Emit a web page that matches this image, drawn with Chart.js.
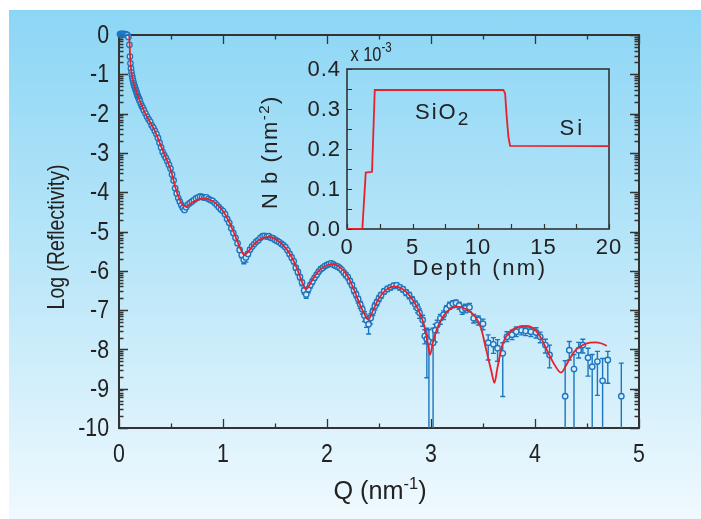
<!DOCTYPE html>
<html>
<head>
<meta charset="utf-8">
<script src="https://cdn.jsdelivr.net/npm/chart.js"></script>
<style>
  body { margin: 0; background: #fff; }
  #wrap { position: relative; width: 701px; height: 519px; overflow: hidden; }
  #panel { position: absolute; left: 9px; top: 10px; right: 0; bottom: 0;
           background: linear-gradient(#8cd6f5, #bfe8f9 55%, #f0f9fe); }
  canvas { position: absolute; }
</style>
</head>
<body>
<div id="wrap">
  <div id="panel"></div>
  <canvas id="main" width="701" height="519" style="left:0;top:0"></canvas>
  <canvas id="inset" width="400" height="260" style="left:240px;top:30px"></canvas>
</div>
<script>
// measured reflectivity (Q in nm^-1, log10 R) with error bars
const dataQ = [
  0.01, 0.02, 0.03, 0.04, 0.05, 0.06, 0.07, 0.08, 0.09, 0.10,
  0.105, 0.11, 0.115, 0.12, 0.125, 0.13, 0.135, 0.14, 0.145, 0.15,
  0.155, 0.16, 0.165, 0.17, 0.175, 0.18, 0.185, 0.19, 0.195, 0.20,
  0.21, 0.22, 0.23, 0.24, 0.255, 0.27, 0.285, 0.30, 0.315, 0.33,
  0.345, 0.36, 0.375, 0.39, 0.405, 0.42, 0.435, 0.45, 0.465, 0.48,
  0.495, 0.51, 0.525, 0.54, 0.555, 0.57, 0.585, 0.60, 0.615, 0.63,
  0.645, 0.66, 0.68, 0.70, 0.72, 0.74, 0.76, 0.78, 0.80, 0.82,
  0.84, 0.86, 0.88, 0.90, 0.92, 0.94, 0.96, 0.98, 1.00, 1.02,
  1.04, 1.06, 1.08, 1.10, 1.12, 1.14, 1.16, 1.18, 1.20, 1.22,
  1.24, 1.26, 1.28, 1.30, 1.32, 1.34, 1.36, 1.38, 1.40, 1.42,
  1.44, 1.46, 1.48, 1.50, 1.52, 1.54, 1.56, 1.58, 1.60, 1.62,
  1.64, 1.66, 1.68, 1.70, 1.72, 1.74, 1.76, 1.78, 1.80, 1.82,
  1.84, 1.86, 1.88, 1.90, 1.92, 1.94, 1.96, 1.98, 2.00, 2.02,
  2.04, 2.06, 2.08, 2.10, 2.12, 2.14, 2.16, 2.18, 2.20, 2.22,
  2.24, 2.26, 2.28, 2.30, 2.32, 2.34, 2.36, 2.38, 2.40, 2.42,
  2.44, 2.46, 2.48, 2.50, 2.52, 2.55, 2.58, 2.61, 2.64, 2.67,
  2.70, 2.73, 2.76, 2.79, 2.82, 2.85, 2.87, 2.89, 2.92, 2.94,
  2.96, 2.98, 3.02, 3.04, 3.06, 3.09, 3.12, 3.15, 3.18, 3.21,
  3.24, 3.27, 3.30, 3.33, 3.37, 3.41, 3.455, 3.50, 3.55, 3.60,
  3.64, 3.69, 3.73, 3.78, 3.82, 3.87, 3.91, 3.96, 4.01, 4.05,
  4.10, 4.14, 4.29, 4.33, 4.375, 4.42, 4.46, 4.51, 4.55, 4.60,
  4.65, 4.70, 4.83
];
const dataLogR = [
  0.02, 0.03, 0.02, 0.03, 0.02, 0.02, 0.01, 0.0, -0.05, -0.25,
  -0.55, -0.72, -0.85, -0.95, -1.03, -1.10, -1.16, -1.22, -1.27, -1.31,
  -1.35, -1.39, -1.43, -1.47, -1.51, -1.55, -1.58, -1.61, -1.64, -1.68,
  -1.75, -1.81, -1.86, -1.92, -2.00, -2.08, -2.15, -2.21, -2.30, -2.36,
  -2.44, -2.52, -2.62, -2.74, -2.86, -2.98, -3.06, -3.13, -3.21, -3.30,
  -3.40, -3.55, -3.70, -3.90, -4.03, -4.15, -4.24, -4.33, -4.40, -4.45,
  -4.38, -4.32, -4.28, -4.24, -4.20, -4.16, -4.13, -4.11, -4.12, -4.14,
  -4.13, -4.17, -4.20, -4.22, -4.27, -4.32, -4.38, -4.44, -4.48, -4.56,
  -4.68, -4.78, -4.92, -5.04, -5.16, -5.30, -5.47, -5.60, -5.72, -5.66,
  -5.57, -5.46, -5.38, -5.32, -5.26, -5.22, -5.16, -5.12, -5.11, -5.13,
  -5.12, -5.16, -5.17, -5.21, -5.24, -5.27, -5.31, -5.35, -5.40, -5.48,
  -5.57, -5.66, -5.76, -5.92, -6.03, -6.16, -6.30, -6.50, -6.60, -6.47,
  -6.36, -6.27, -6.18, -6.10, -6.02, -5.96, -5.92, -5.88, -5.85, -5.83,
  -5.81, -5.84, -5.87, -5.89, -5.92, -5.97, -6.04, -6.10, -6.16, -6.26,
  -6.36, -6.50, -6.60, -6.72, -6.86, -6.98, -7.14, -7.26, -7.36, -7.20,
  -7.04, -6.90, -6.80, -6.70, -6.62, -6.52, -6.46, -6.42, -6.38, -6.37,
  -6.42, -6.47, -6.55, -6.62, -6.74, -6.86, -6.95, -7.07, -7.25, -7.66,
  -7.74, -7.80, -7.83, -7.51, -7.38, -7.21, -7.12, -6.97, -6.88, -6.84,
  -6.82, -6.88, -6.99, -6.95, -6.93, -7.21, -7.25, -7.35, -7.83, -7.87,
  -7.97, -8.10, -7.68, -7.63, -7.55, -7.51, -7.53, -7.55, -7.57, -7.68,
  -7.89, -8.14, -9.19, -8.02, -8.50, -8.02, -7.89, -8.21, -8.44, -8.31,
  -8.80, -8.27, -9.19
];
const errUp = [
  0, 0, 0, 0, 0, 0, 0, 0, 0, 0,
  0, 0, 0, 0, 0, 0, 0, 0, 0, 0,
  0, 0, 0, 0, 0, 0, 0, 0, 0, 0,
  0, 0, 0, 0, 0, 0, 0, 0, 0, 0,
  0, 0, 0, 0, 0, 0, 0, 0, 0, 0,
  0, 0, 0, 0, 0, 0, 0, 0, 0, 0,
  0, 0, 0, 0, 0, 0, 0, 0, 0, 0,
  0, 0, 0, 0, 0, 0, 0, 0, 0, 0,
  0.03, 0.03, 0.03, 0.04, 0.04, 0.05, 0.05, 0.06, 0.06, 0.06,
  0.05, 0.05, 0.04, 0.04, 0.04, 0.04, 0.04, 0.04, 0.04, 0.04,
  0.04, 0.04, 0.04, 0.04, 0.04, 0.04, 0.04, 0.04, 0.04, 0.04,
  0.05, 0.05, 0.05, 0.05, 0.06, 0.06, 0.06, 0.07, 0.07, 0.07,
  0.06, 0.06, 0.05, 0.05, 0.05, 0.05, 0.05, 0.05, 0.05, 0.05,
  0.05, 0.05, 0.05, 0.05, 0.05, 0.05, 0.05, 0.05, 0.05, 0.05,
  0.06, 0.06, 0.07, 0.07, 0.08, 0.08, 0.10, 0.10, 0.12, 0.10,
  0.08, 0.08, 0.07, 0.07, 0.07, 0.06, 0.06, 0.06, 0.06, 0.06,
  0.06, 0.06, 0.07, 0.07, 0.08, 0.09, 0.10, 0.10, 0.12, 0.16,
  0.28, 0.30, 0.37, 0.15, 0.12, 0.10, 0.10, 0.08, 0.08, 0.08,
  0.08, 0.08, 0.10, 0.10, 0.10, 0.10, 0.10, 0.12, 0.20, 0.17,
  0.22, 0.27, 0.13, 0.12, 0.12, 0.10, 0.10, 0.10, 0.12, 0.12,
  0.15, 0.25, 0.90, 0.22, 0.37, 0.20, 0.15, 0.24, 0.31, 0.26,
  0.57, 0.22, 0.84
];
const errDown = [
  0, 0, 0, 0, 0, 0, 0, 0, 0, 0,
  0, 0, 0, 0, 0, 0, 0, 0, 0, 0,
  0, 0, 0, 0, 0, 0, 0, 0, 0, 0,
  0, 0, 0, 0, 0, 0, 0, 0, 0, 0,
  0, 0, 0, 0, 0, 0, 0, 0, 0, 0,
  0, 0, 0, 0, 0, 0, 0, 0, 0, 0,
  0, 0, 0, 0, 0, 0, 0, 0, 0, 0,
  0, 0, 0, 0, 0, 0, 0, 0, 0, 0,
  0.03, 0.03, 0.03, 0.04, 0.04, 0.05, 0.06, 0.07, 0.10, 0.12,
  0.06, 0.05, 0.05, 0.04, 0.04, 0.04, 0.04, 0.04, 0.04, 0.04,
  0.05, 0.05, 0.05, 0.05, 0.05, 0.05, 0.05, 0.05, 0.05, 0.05,
  0.05, 0.06, 0.06, 0.06, 0.07, 0.07, 0.08, 0.09, 0.10, 0.09,
  0.08, 0.07, 0.06, 0.06, 0.06, 0.05, 0.05, 0.05, 0.05, 0.05,
  0.05, 0.05, 0.05, 0.06, 0.06, 0.06, 0.06, 0.07, 0.07, 0.07,
  0.07, 0.08, 0.09, 0.10, 0.10, 0.12, 0.15, 0.18, 0.25, 0.15,
  0.10, 0.10, 0.09, 0.08, 0.08, 0.07, 0.07, 0.07, 0.07, 0.07,
  0.07, 0.07, 0.08, 0.09, 0.10, 0.11, 0.12, 0.14, 0.16, 0.20,
  0.98, 3.00, 3.00, 0.30, 0.20, 0.15, 0.12, 0.10, 0.10, 0.10,
  0.10, 0.10, 0.12, 0.12, 0.12, 0.12, 0.13, 0.15, 0.44, 0.23,
  0.33, 1.10, 0.12, 0.12, 0.12, 0.12, 0.12, 0.12, 0.14, 0.15,
  0.20, 0.33, 2.00, 0.25, 2.00, 0.20, 0.20, 0.47, 2.00, 0.86,
  2.00, 0.59, 2.00
];

// model fit (red line)
const fitQ = [
  0, 0.05, 0.097, 0.103, 0.11, 0.12, 0.135, 0.15, 0.17, 0.19,
  0.21, 0.25, 0.3, 0.35, 0.4, 0.45, 0.5, 0.54, 0.58, 0.615,
  0.645, 0.7, 0.75, 0.81, 0.87, 0.93, 1.0, 1.06, 1.12, 1.17,
  1.205, 1.24, 1.3, 1.37, 1.44, 1.52, 1.6, 1.66, 1.71, 1.76,
  1.8, 1.85, 1.92, 1.99, 2.05, 2.12, 2.19, 2.26, 2.32, 2.36,
  2.397, 2.44, 2.5, 2.57, 2.65, 2.73, 2.8, 2.87, 2.93, 2.97,
  2.99, 3.02, 3.07, 3.15, 3.25, 3.34, 3.42, 3.48, 3.53, 3.58,
  3.61, 3.64, 3.69, 3.76, 3.84, 3.92, 4.0, 4.06, 4.12, 4.19,
  4.25, 4.31, 4.38, 4.46, 4.53, 4.58, 4.64, 4.69
];
const fitLogR = [
  0, 0, 0, -0.3, -0.7, -0.95, -1.16, -1.31, -1.47, -1.61,
  -1.74, -1.98, -2.22, -2.47, -2.8, -3.12, -3.45, -3.86, -4.17, -4.33,
  -4.36, -4.27, -4.2, -4.16, -4.19, -4.28, -4.48, -4.76, -5.13, -5.45,
  -5.6, -5.52, -5.32, -5.18, -5.14, -5.22, -5.41, -5.65, -5.93, -6.28,
  -6.47, -6.27, -6.0, -5.87, -5.83, -5.9, -6.1, -6.48, -6.88, -7.1,
  -7.24, -7.02, -6.7, -6.48, -6.4, -6.47, -6.65, -6.95, -7.35, -7.85,
  -8.14, -7.8, -7.4, -7.05, -6.91, -6.98, -7.15, -7.45, -8.0, -8.55,
  -8.85, -8.45, -7.85, -7.55, -7.43, -7.4, -7.5, -7.72, -8.05, -8.4,
  -8.59, -8.35, -8.05, -7.89, -7.83, -7.82, -7.85, -7.91
];
const xTicks = [0, 1, 2, 3, 4, 5];
const yTicks = [0, -1, -2, -3, -4, -5, -6, -7, -8, -9, -10];

// inset: scattering length density profile (x 10^-3 nm^-2)
const depthNm = [0, 1.17, 1.43, 1.91, 2.12, 11.94, 12.07, 12.19, 12.32, 12.45, 20];
const nbValues = [0, 0, 0.141, 0.143, 0.3475, 0.3475, 0.339, 0.281, 0.231, 0.208, 0.207];
const insetXTicks = [0, 5, 10, 15, 20];
const insetYTicks = [0, 0.1, 0.2, 0.3, 0.4];

const SANS = "'Liberation Sans', Arial, sans-serif";
const INK = '#222';
const BLUE = '#1c76bf';
const RED = '#e8202a';

// frame and inward tick marks, drawn under the data
const frameTicks = {
  id: 'frameTicks',
  beforeDatasetsDraw(chart, args, o) {
    const { ctx, chartArea: a, scales: { x, y } } = chart;
    ctx.save();
    ctx.strokeStyle = o.color;
    ctx.lineWidth = o.frameWidth;
    ctx.strokeRect(a.left, a.top, a.width, a.height);
    ctx.lineWidth = o.tickWidth;
    ctx.beginPath();
    const xt = (vals, len) => vals.forEach(v => {
      const p = Math.round(x.getPixelForValue(v)) + 0.5;
      if (o.bottom) { ctx.moveTo(p, a.bottom); ctx.lineTo(p, a.bottom - len); }
      if (o.top) { ctx.moveTo(p, a.top); ctx.lineTo(p, a.top + len); }
    });
    const yt = (vals, len) => vals.forEach(v => {
      const p = Math.round(y.getPixelForValue(v)) + 0.5;
      if (o.left) { ctx.moveTo(a.left, p); ctx.lineTo(a.left + len, p); }
      if (o.right) { ctx.moveTo(a.right, p); ctx.lineTo(a.right - len, p); }
    });
    xt(o.xMajor, o.majorLen); xt(o.xMinor, o.minorLen);
    yt(o.yMajor, o.majorLen); yt(o.yMinor, o.minorLen);
    ctx.stroke();
    ctx.restore();
  }
};

// tick labels drawn from the scales, with optional horizontal squeeze
const tickLabels = {
  id: 'tickLabels',
  afterDraw(chart, args, o) {
    const { ctx, chartArea: a, scales: { x, y } } = chart;
    ctx.save();
    ctx.fillStyle = INK;
    ctx.font = o.size + 'px ' + SANS;
    ctx.letterSpacing = o.spacing;
    ctx.textBaseline = 'middle';
    o.xVals.forEach(v => {
      ctx.save();
      ctx.translate(x.getPixelForValue(v), a.bottom + o.xOffset);
      ctx.scale(o.squeeze, 1);
      ctx.textAlign = 'center';
      ctx.fillText(o.xFormat(v), 0, 0);
      ctx.restore();
    });
    o.yVals.forEach(v => {
      ctx.save();
      ctx.translate(a.left - o.yOffset, y.getPixelForValue(v) + 1);
      ctx.scale(o.squeeze, 1);
      ctx.textAlign = 'right';
      ctx.fillText(o.yFormat(v), 0, 0);
      ctx.restore();
    });
    ctx.restore();
  }
};

const errorBars = {
  id: 'errorBars',
  beforeDatasetsDraw(chart) {
    const { ctx, chartArea: a, scales: { x, y } } = chart;
    ctx.save();
    ctx.strokeStyle = BLUE;
    ctx.lineWidth = 1.4;
    ctx.beginPath();
    dataQ.forEach((q, i) => {
      if (!errUp[i] && !errDown[i]) return;
      const px = x.getPixelForValue(q);
      const top = Math.max(a.top, y.getPixelForValue(dataLogR[i] + errUp[i]));
      const bot = Math.min(a.bottom, y.getPixelForValue(dataLogR[i] - errDown[i]));
      ctx.moveTo(px, top); ctx.lineTo(px, bot);
      ctx.moveTo(px - 2.5, top); ctx.lineTo(px + 2.5, top);
      if (bot < a.bottom) { ctx.moveTo(px - 2.5, bot); ctx.lineTo(px + 2.5, bot); }
    });
    ctx.stroke();
    ctx.restore();
  }
};

// text with raised / lowered small parts: parts = [[text, sizeScale, shift], ...]
function drawRich(ctx, parts, cx, cy, size, squeeze, spacing) {
  ctx.save();
  ctx.letterSpacing = spacing || '0px';
  ctx.translate(cx, cy);
  ctx.scale(squeeze, 1);
  let w = 0;
  parts.forEach(p => { ctx.font = Math.round(size * p[1]) + 'px ' + SANS; w += ctx.measureText(p[0]).width; });
  let xPos = -w / 2;
  ctx.textAlign = 'left';
  ctx.textBaseline = 'middle';
  parts.forEach(p => {
    ctx.font = Math.round(size * p[1]) + 'px ' + SANS;
    ctx.fillText(p[0], xPos, p[2] * size);
    xPos += ctx.measureText(p[0]).width;
  });
  ctx.restore();
}

const mainTitles = {
  id: 'mainTitles',
  afterDraw(chart) {
    const ctx = chart.ctx;
    ctx.save();
    ctx.fillStyle = INK;
    drawRich(ctx, [['Q (nm', 1, 0], ['-1', 0.65, -0.3], [')', 1, 0]], 380, 492, 26, 0.97);
    ctx.translate(57, 237);
    ctx.rotate(-Math.PI / 2);
    drawRich(ctx, [['Log (Reflectivity)', 1, 0]], 0, 0, 24, 0.81);
    ctx.restore();
  }
};

const yMinor = [];
for (let k = -10; k < 0; k++) for (let m = 2; m <= 9; m++) yMinor.push(k + Math.log10(m));

new Chart(document.getElementById('main'), {
  type: 'scatter',
  data: {
    datasets: [
      {
        label: 'fit',
        data: fitQ.map((q, i) => ({ x: q, y: fitLogR[i] })),
        showLine: true,
        borderColor: RED,
        borderWidth: 1.8,
        pointRadius: 0,
        cubicInterpolationMode: 'monotone',
        order: 0
      },
      {
        label: 'data',
        data: dataQ.map((q, i) => ({ x: q, y: dataLogR[i] })),
        showLine: false,
        pointRadius: 2.7,
        borderWidth: 1.4,
        borderColor: BLUE,
        backgroundColor: 'rgba(225,243,252,0.9)',
        clip: { left: 5, top: 5, right: 5, bottom: 0 },
        order: 1
      }
    ]
  },
  options: {
    responsive: false,
    animation: false,
    layout: { padding: { top: 35, right: 62, left: 0, bottom: 0 } },
    plugins: {
      legend: { display: false },
      tooltip: { enabled: false },
      frameTicks: {
        color: '#333', frameWidth: 2, tickWidth: 1.3, majorLen: 9, minorLen: 4.5,
        top: true, bottom: true, left: true, right: true,
        xMajor: xTicks, xMinor: [0.5, 1.5, 2.5, 3.5, 4.5],
        yMajor: yTicks, yMinor: yMinor
      },
      tickLabels: {
        size: 26, squeeze: 0.82, spacing: '0px', xOffset: 27, yOffset: 10,
        xVals: xTicks, yVals: yTicks, xFormat: v => String(v), yFormat: v => String(v)
      }
    },
    scales: {
      x: {
        type: 'linear', min: 0, max: 5,
        grid: { display: false }, border: { display: false },
        afterBuildTicks: s => { s.ticks = xTicks.map(v => ({ value: v })); },
        afterFit: s => { s.height = 91; },
        ticks: { display: false }
      },
      y: {
        type: 'linear', min: -10, max: 0,
        grid: { display: false }, border: { display: false },
        afterBuildTicks: s => { s.ticks = yTicks.map(v => ({ value: v })); },
        afterFit: s => { s.width = 119; },
        ticks: { display: false }
      }
    }
  },
  plugins: [frameTicks, errorBars, tickLabels, mainTitles]
});

const insetText = {
  id: 'insetText',
  afterDraw(chart) {
    const { ctx, chartArea: a, scales: { x, y } } = chart;
    ctx.save();
    ctx.fillStyle = INK;
    drawRich(ctx, [['SiO', 1, 0], ['2', 0.85, 0.32]], x.getPixelForValue(7.3), y.getPixelForValue(0.29), 22, 1, '2px');
    drawRich(ctx, [['Si', 1, 0]], x.getPixelForValue(17.2), y.getPixelForValue(0.25), 22, 1, '3px');
    drawRich(ctx, [['Depth (nm)', 1, 0]], (a.left + a.right) / 2 + 2, 239, 22, 1, '2.5px');
    drawRich(ctx, [['x 10', 0.9, 0], ['-3', 0.65, -0.3]], a.left + 24, a.top - 14, 22, 0.82, '0px');
    ctx.translate(31, (a.top + a.bottom) / 2 + 3);
    ctx.rotate(-Math.PI / 2);
    drawRich(ctx, [['N b (nm', 1, 0], ['-2', 0.7, -0.3], [')', 1, 0]], 0, 0, 22, 1, '1.5px');
    ctx.restore();
  }
};

new Chart(document.getElementById('inset'), {
  type: 'scatter',
  data: {
    datasets: [{
      label: 'Nb',
      data: depthNm.map((d, i) => ({ x: d, y: nbValues[i] })),
      showLine: true,
      borderColor: RED,
      borderWidth: 1.8,
      pointRadius: 0,
      tension: 0
    }]
  },
  options: {
    responsive: false,
    animation: false,
    layout: { padding: { top: 39, right: 31, left: 0, bottom: 0 } },
    plugins: {
      legend: { display: false },
      tooltip: { enabled: false },
      frameTicks: {
        color: '#333', frameWidth: 1.6, tickWidth: 1.2, majorLen: 5, minorLen: 5,
        top: false, bottom: true, left: true, right: false,
        xMajor: insetXTicks, xMinor: [2.5, 7.5, 12.5, 17.5],
        yMajor: insetYTicks, yMinor: [0.05, 0.15, 0.25, 0.35]
      },
      tickLabels: {
        size: 22, squeeze: 1, spacing: '1px', xOffset: 19, yOffset: 6,
        xVals: insetXTicks, yVals: insetYTicks,
        xFormat: v => String(v), yFormat: v => v.toFixed(1)
      }
    },
    scales: {
      x: {
        type: 'linear', min: 0, max: 20,
        grid: { display: false }, border: { display: false },
        afterFit: s => { s.height = 61; },
        ticks: { display: false }
      },
      y: {
        type: 'linear', min: 0, max: 0.4,
        grid: { display: false }, border: { display: false },
        afterFit: s => { s.width = 107; },
        ticks: { display: false }
      }
    }
  },
  plugins: [frameTicks, tickLabels, insetText]
});
</script>
</body>
</html>
